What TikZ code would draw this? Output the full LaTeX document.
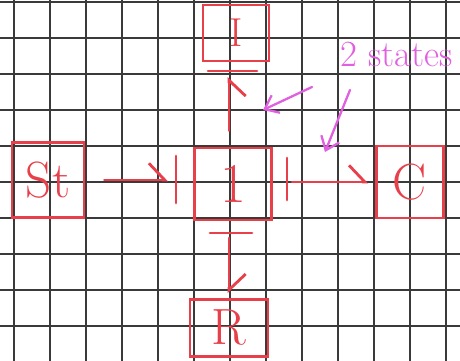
\documentclass[tikz,border=0pt]{standalone}
\usetikzlibrary{arrows.meta, positioning}
\definecolor{pen}{HTML}{E8404A}
\definecolor{marker}{HTML}{E060E0}
\definecolor{gridline}{HTML}{3A3A3A}

\begin{document}
\begin{tikzpicture}[
    x=0.02cm, y=-0.02cm,
    gridrule/.style={draw=gridline, line width=0.75pt},
    box/.style={
        rectangle,
        draw=pen,
        line width=1.6pt,
        text=pen,
        inner sep=0pt,
        font=\fontsize{29}{29}\selectfont
    },
    barline/.style={draw=pen, line width=1.6pt, line cap=round},
    arrowl/.style={barline, -{Straight Barb[left, length=9pt, width=19pt]}},
    arrowr/.style={barline, -{Straight Barb[right, length=9pt, width=19pt]}},
    note/.style={text=marker, font=\fontsize{21}{21}\selectfont},
    markarrow/.style={draw=marker, line width=1.3pt, line cap=round, -{Straight Barb[length=7pt, width=11pt]}}
]
\useasboundingbox (0,0) rectangle (460,361);
\fill[white] (0,0) rectangle (460,361);

% GRID PAPER
\foreach \gx in {14,50,...,446}
    \draw[gridrule] (\gx,0) -- (\gx,361);
\foreach \gy in {2,38,...,326}
    \draw[gridrule] (0,\gy) -- (460,\gy);

% NODES
\node[box, minimum width=1.44cm, minimum height=1.5cm] (st) at (48,180) {St};
\node[box, minimum width=1.54cm, minimum height=1.44cm, font=\fontsize{32}{32}\selectfont] (one) at (233,184) {1};
\node[box, minimum width=1.32cm, minimum height=1.12cm, font=\fontsize{23}{23}\selectfont] (inf) at (236,33) {I};
\node[box, minimum width=1.34cm, minimum height=1.44cm] (cnode) at (410,182) {C};
\node[box, minimum width=1.56cm, minimum height=1.14cm] (rnode) at (229,328) {R};

% BARS
\coordinate (barl) at (176,180);
\coordinate (barr) at (287,182);
\coordinate (bart) at (229,71);
\coordinate (barb) at (229,233);
\draw[barline] (barl) ++(0,-24) -- ++(0,47);
\draw[barline] (barr) ++(0,-24) -- ++(0,42);
\draw[barline] (bart) ++(-21,0) -- ++(49,0);
\draw[barline] (barb) ++(-19,0) -- ++(42,0);

% ARROWS
\draw[arrowl, shorten <=0.38cm, shorten >=0.16cm] (st) -- (barl);
\draw[arrowl, shorten <=0.1cm, shorten >=0.14cm] (barr) -- (cnode);
\draw[arrowr, shorten <=0.32cm, shorten >=0.12cm] (one.north -| bart) -- (bart);
\draw[arrowl, shorten <=0.1cm, shorten >=0.1cm] (barb) -- (rnode.north -| barb);

% ANNOTATION
\node[note, anchor=base west] (states) at (334,67) {2 states};
\coordinate (taila) at (312,87);
\coordinate (tipa) at (263,110);
\coordinate (tailb) at (350,90);
\coordinate (tipb) at (325,152);
\draw[markarrow] (taila) -- (tipa);
\draw[markarrow] (tailb) -- (tipb);

\end{tikzpicture}
\end{document}
